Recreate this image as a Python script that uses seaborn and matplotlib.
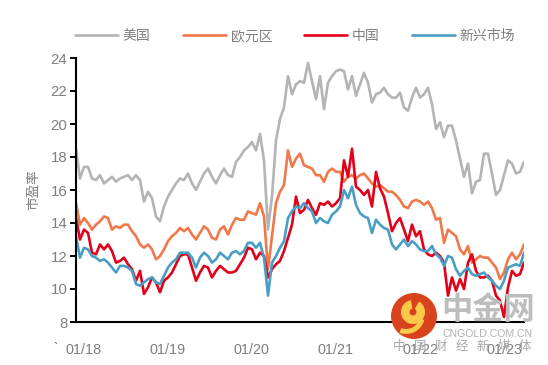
import pandas as pd
import numpy as np
import matplotlib.pyplot as plt
import matplotlib.dates as mdates
from matplotlib.patches import Circle, Wedge
import seaborn as sns

series_names = ['美国', '欧元区', '中国', '新兴市场']
series_colors = ['#b4b4b4', '#f0784a', '#e2001a', '#4a9ec4']
y_ticks = [8, 10, 12, 14, 16, 18, 20, 22, 24]
x_tick_dates = ['2018-01-01', '2019-01-01', '2020-01-01', '2021-01-01', '2022-01-01', '2023-01-01']

us_pe = [
    18.5, 16.7, 17.4, 17.4, 16.7, 16.6, 16.9, 16.4, 16.6, 16.8,
    16.5, 16.7, 16.8, 16.9, 16.6, 16.9, 16.6, 15.3, 15.9, 15.5,
    14.4, 14.1, 15.0, 15.6, 16.0, 16.4, 16.7, 16.6, 17.0, 16.4,
    16.0, 16.5, 17.0, 17.3, 16.8, 16.4, 16.9, 17.3, 16.9, 16.8,
    17.7, 18.0, 18.4, 18.6, 18.9, 18.4, 19.4, 17.8, 13.6, 15.6,
    19.0, 20.3, 21.0, 22.9, 21.8, 22.4, 22.6, 22.5, 23.7, 22.6,
    21.5, 22.9, 20.9, 22.5, 22.9, 23.2, 23.3, 23.2, 22.1, 22.9,
    21.7, 22.4, 23.1, 22.5, 21.3, 21.8, 21.9, 22.2, 21.8, 21.6,
    21.6, 21.9, 21.0, 20.8, 21.6, 22.2, 21.6, 21.8, 22.2, 21.2,
    19.7, 20.1, 19.2, 19.9, 19.9, 19.0, 17.9, 16.8, 17.6, 15.8,
    16.5, 16.6, 18.2, 18.2, 17.0, 15.7, 16.0, 16.9, 17.8, 17.6,
    17.0, 17.1, 17.7,
]
euro_pe = [
    15.2, 13.9, 14.3, 14.0, 13.6, 13.9, 14.1, 14.4, 14.3, 13.6,
    13.8, 13.7, 13.9, 13.9, 13.5, 13.2, 12.7, 12.5, 12.7, 12.4,
    11.8, 12.0, 12.4, 12.9, 13.2, 13.4, 13.7, 13.5, 13.7, 13.3,
    13.0, 13.4, 13.8, 13.6, 13.1, 13.0, 13.6, 13.8, 13.3, 13.9,
    14.3, 14.2, 14.2, 14.7, 14.6, 14.5, 15.2, 14.4, 11.2, 13.2,
    15.2, 15.9, 16.3, 18.4, 17.4, 17.9, 18.2, 17.5, 17.4, 17.3,
    16.9, 16.9, 16.5, 17.1, 17.3, 17.1, 17.1, 16.5, 16.8, 16.9,
    16.7, 16.9, 17.0, 16.7, 16.4, 16.2, 16.3, 16.1, 15.9, 15.9,
    15.7, 15.4, 15.0, 14.9, 15.3, 15.4, 15.3, 15.1, 15.3, 14.9,
    14.2, 14.3, 12.8, 13.6, 13.4, 13.2, 12.4, 12.1, 12.6, 11.6,
    11.8, 12.0, 11.9, 11.9, 11.6, 11.3, 10.6, 11.0, 11.8, 12.2,
    11.8, 12.1, 12.7,
]
china_pe = [
    14.3, 13.0, 13.6, 13.4, 12.2, 12.1, 12.7, 12.4, 12.7, 12.3,
    11.6, 11.7, 11.9, 11.5, 11.2, 10.5, 11.1, 9.7, 10.1, 10.7,
    10.4, 9.8, 10.5, 10.7, 11.0, 11.5, 12.0, 12.1, 12.1, 11.3,
    10.5, 11.0, 11.4, 11.3, 10.7, 11.1, 11.4, 11.2, 11.0, 11.0,
    11.1, 11.5, 11.9, 12.5, 12.4, 11.8, 12.2, 12.0, 10.7, 11.2,
    11.5, 11.7, 12.3, 13.1, 13.9, 15.6, 14.6, 14.8, 15.4, 14.9,
    14.5, 15.2, 15.1, 15.3, 15.0, 15.2, 15.5, 17.8, 16.8, 18.5,
    16.2, 16.0, 15.7, 16.0, 15.0, 17.1, 16.1, 15.6, 14.6, 13.5,
    14.0, 14.3, 13.6, 12.9, 13.9, 13.2, 13.5, 12.4, 12.1, 12.0,
    12.2, 12.0, 11.6, 9.6, 10.7, 9.9, 10.6, 10.0, 11.6, 12.1,
    11.1, 10.7, 10.7, 10.8, 10.5, 9.6, 9.3, 8.3, 10.1, 11.1,
    10.8, 10.9, 11.6,
]
em_pe = [
    13.2, 11.9, 12.5, 12.4, 12.0, 11.9, 11.7, 11.8, 11.6, 11.3,
    11.0, 11.4, 11.4, 11.3, 11.1, 10.3, 10.2, 10.4, 10.6, 10.7,
    10.4, 10.3, 10.8, 11.3, 11.6, 11.8, 12.2, 12.2, 12.2, 11.9,
    11.3, 11.9, 12.2, 12.0, 11.6, 11.8, 12.2, 12.0, 11.8, 12.2,
    12.3, 12.1, 12.3, 12.8, 12.8, 12.5, 12.8, 11.9, 9.6, 11.6,
    12.0, 12.5, 12.9, 14.3, 14.7, 15.0, 14.9, 15.2, 14.9, 14.7,
    14.0, 14.3, 14.1, 14.0, 14.5, 14.7, 15.0, 16.0, 15.5, 16.2,
    15.1, 14.6, 14.4, 14.3, 13.4, 14.2, 13.9, 13.7, 13.6, 12.7,
    12.4, 12.7, 13.0, 12.6, 12.9, 12.7, 12.4, 12.3, 12.3, 12.6,
    12.1, 11.9, 11.4, 12.0, 11.9, 11.2, 10.8, 11.1, 11.3, 10.9,
    10.8, 10.9, 11.0, 10.7, 10.5, 10.2, 10.0, 10.5, 11.3, 11.4,
    11.5, 11.4, 12.2,
]

dates = pd.date_range('2017-12-01', '2023-03-28', periods=len(us_pe))

df = pd.DataFrame({'date': dates, '美国': us_pe, '欧元区': euro_pe, '中国': china_pe, '新兴市场': em_pe})
df = df.melt(id_vars='date', var_name='region', value_name='pe')

sns.set_theme(style='white')
plt.rcParams['font.family'] = ['Liberation Sans', 'Noto Sans CJK SC', 'DejaVu Sans']

W, H = 548, 365
GREY = '#7f7f7f'
fig = plt.figure(figsize=(W / 100, H / 100), dpi=100)
ax = fig.add_axes([76 / W, 1 - 322 / H, 448 / W, 264 / H])

sns.lineplot(data=df, x='date', y='pe', hue='region', hue_order=series_names,
             palette=series_colors, linewidth=1.9, errorbar=None, ax=ax)

ax.set_xlim(dates[0], dates[-1])
ax.set_ylim(8, 24)
ax.set_yticks(y_ticks)
ax.set_xticks(pd.to_datetime(x_tick_dates))
ax.xaxis.set_major_formatter(mdates.DateFormatter('%m/%y'))
ax.tick_params(axis='y', left=True, length=4.3, width=1.4, color='black', labelsize=10.8,
               labelcolor=GREY, pad=2)
ax.tick_params(axis='x', bottom=False, labelsize=10.4, labelcolor=GREY, pad=9)
ax.set_xlabel('')
ax.set_ylabel('市盈率', fontsize=9.8, color=GREY, labelpad=0)
ax.yaxis.set_label_coords(-36 / 448, 0.5)
sns.despine(ax=ax)
for side in ['left', 'bottom']:
    ax.spines[side].set_color('black')
    ax.spines[side].set_linewidth(1.5)

leg = ax.legend(loc='center left', bbox_to_anchor=(-1 / 448, 286 / 264), ncol=4, frameon=False,
                borderpad=0, borderaxespad=0, handlelength=3.1, handletextpad=0.35,
                columnspacing=2.3, fontsize=10)
for t in leg.get_texts():
    t.set_color(GREY)


# watermark and the stray mark sit in figure pixels
def fx(px):
    return px / W


def fy(py):
    return 1 - py / H


fig.text(fx(53), fy(352), '`', fontsize=9, color='#555555')

aspect_tr = fig.dpi_scale_trans
logo_xy = (414 / 100, (H - 316) / 100)
fig.add_artist(Circle(logo_xy, 0.23, transform=aspect_tr, facecolor='#d8431c', edgecolor='none'))
fig.add_artist(Wedge((4.13, (H - 312) / 100), 0.12, 100, 420, width=0.085, transform=aspect_tr,
                     facecolor='#fbc94a', edgecolor='none'))
fig.add_artist(Wedge((4.06, (H - 315) / 100), 0.19, 250, 345, width=0.05, transform=aspect_tr,
                     facecolor='#fbc94a', edgecolor='none'))

fig.text(fx(488.5), fy(311), '中金网', fontsize=22.5, fontweight='bold', color='#bdbdbd',
         ha='center', va='center')
fig.text(fx(488), fy(334), 'CNGOLD.COM.CN', fontsize=7.6, color='#b0b0b0', ha='center', va='center')
for i, ch in enumerate('中国财经新媒体'):
    fig.text(fx(399 + 21 * i), fy(347), ch, fontsize=9, color='#a8a8a8', ha='center', va='center')

fig.savefig('out.png', dpi=100)
